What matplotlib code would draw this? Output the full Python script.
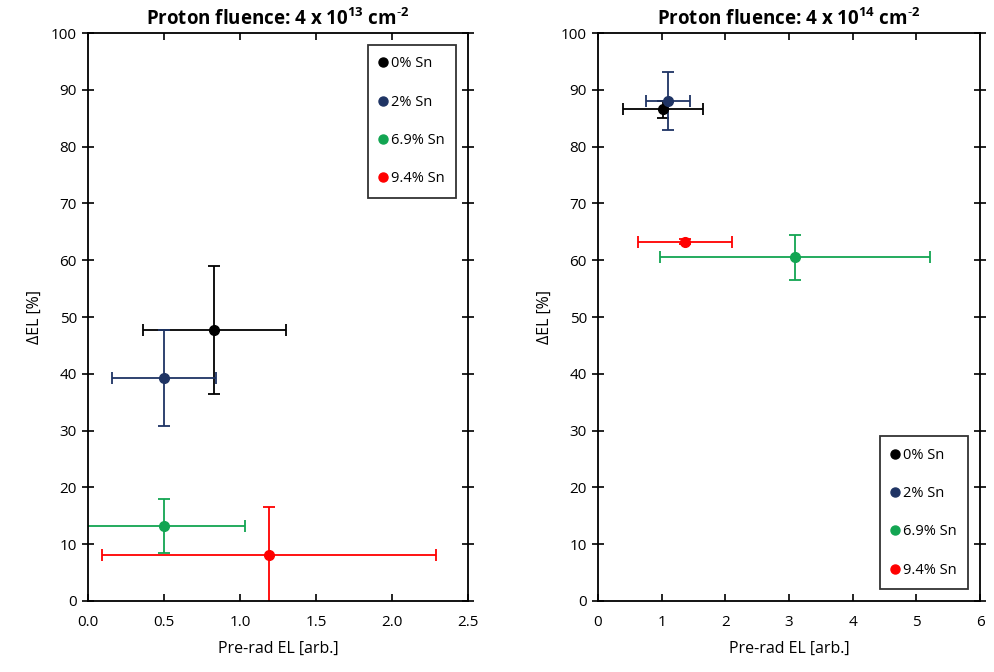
import numpy as np
import matplotlib
matplotlib.use("Agg")
import matplotlib.pyplot as plt

plt.rcParams.update({
    "font.family": ["Open Sans", "DejaVu Sans"],
    "mathtext.fontset": "custom",
    "mathtext.rm": "Open Sans",
    "mathtext.bf": "Open Sans:bold",
    "axes.linewidth": 1.3,
})

LABELS = ["0% Sn", "2% Sn", "6.9% Sn", "9.4% Sn"]
COLORS = ["#000000", "#1f3464", "#12a552", "#ff0000"]

# fluence 4e13
x13 = [0.83, 0.50, 0.50, 1.19]
xerr13 = [0.47, 0.34, 0.53, 1.10]
y13 = [47.7, 39.3, 13.2, 8.1]
yerr13 = [11.3, 8.4, 4.7, 8.5]

# fluence 4e14
x14 = [1.02, 1.10, 3.10, 1.37]
xerr14 = [0.63, 0.35, 2.12, 0.74]
y14 = [86.6, 88.0, 60.5, 63.3]
yerr14 = [1.5, 5.1, 4.0, 0.5]


def panel(ax, x, xerr, y, yerr, title, xlim, xticks, xfmt, legloc):
    for i in range(len(LABELS)):
        ax.errorbar(x[i], y[i], xerr=xerr[i], yerr=yerr[i], fmt="o",
                    color=COLORS[i], ecolor=COLORS[i], ms=7, elinewidth=1.3,
                    capsize=4, capthick=1.3, label=LABELS[i], clip_on=True)
    ax.set_xlim(*xlim)
    ax.set_ylim(0, 100)
    ax.set_xticks(xticks)
    ax.set_xticklabels([xfmt.format(t) for t in xticks])
    ax.set_yticks(np.arange(0, 101, 10))
    ax.tick_params(axis="x", direction="in", top=True, length=5, width=1.2,
                   labelsize=11, pad=10)
    ax.tick_params(axis="y", direction="inout", right=True, length=8, width=1.2,
                   labelsize=11, pad=4)
    ax.set_title(title, fontweight="bold", fontsize=13.5, pad=6)
    ax.set_xlabel("Pre-rad EL [arb.]", fontsize=11.5, labelpad=8)
    ax.set_ylabel("\u0394EL [%]", fontsize=11.5, labelpad=6)
    handles = [plt.Line2D([], [], marker="o", ls="none", color=c, ms=6.5) for c in COLORS]
    leg = ax.legend(handles, LABELS, loc=legloc, fontsize=10.5, frameon=True,
                    fancybox=False, edgecolor="black", handlelength=0.5,
                    handletextpad=0.3, labelspacing=1.6, borderpad=0.8,
                    borderaxespad=0.8)
    leg.get_frame().set_linewidth(1.3)


fig = plt.figure(figsize=(9.95, 6.72), dpi=100)
ax1 = fig.add_axes([0.0884, 0.1057, 0.382, 0.845])
ax2 = fig.add_axes([0.601, 0.1057, 0.384, 0.845])

panel(ax1, x13, xerr13, y13, yerr13,
      r"Proton fluence: 4 x 10$^{\mathbf{13}}$ cm$^{\mathbf{\text{-}2}}$",
      (0, 2.5), np.arange(0, 2.51, 0.5), "{:.1f}", "upper right")
panel(ax2, x14, xerr14, y14, yerr14,
      r"Proton fluence: 4 x 10$^{\mathbf{14}}$ cm$^{\mathbf{\text{-}2}}$",
      (0, 6), np.arange(0, 7, 1), "{:.0f}", "lower right")

fig.savefig("out.png", dpi=100)
